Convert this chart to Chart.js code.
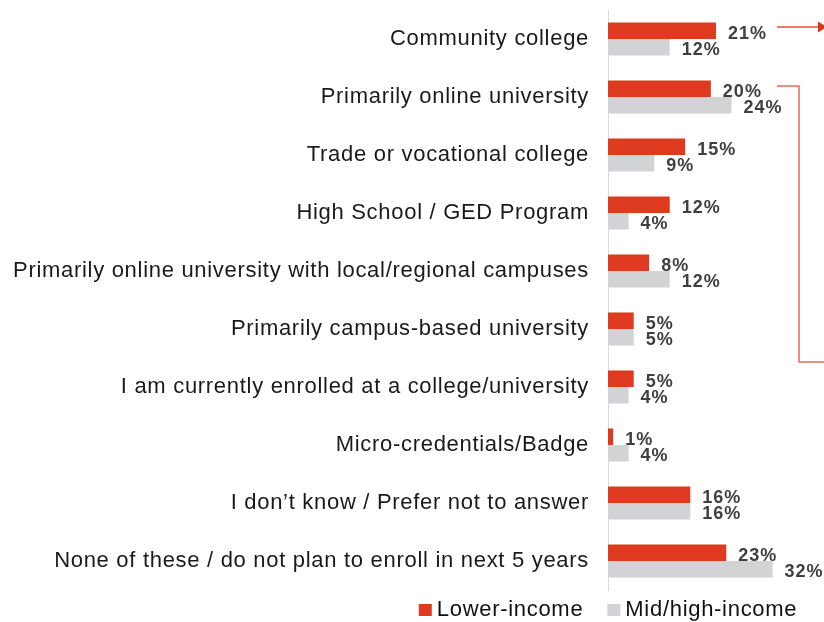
<!DOCTYPE html>
<html>
<head>
<meta charset="utf-8">
<script src="https://cdn.jsdelivr.net/npm/chart.js@4.4.1/dist/chart.umd.min.js"></script>
<style>
  html, body { margin: 0; padding: 0; background: #fff; }
  canvas { display: block; }
</style>
</head>
<body>
<canvas id="chart" width="824" height="622"></canvas>
<script>
const categories = [
  'Community college',
  'Primarily online university',
  'Trade or vocational college',
  'High School / GED Program',
  'Primarily online university with local/regional campuses',
  'Primarily campus-based university',
  'I am currently enrolled at a college/university',
  'Micro-credentials/Badge',
  'I don\u2019t know / Prefer not to answer',
  'None of these / do not plan to enroll in next 5 years',
]
const lowerIncome = [21, 20, 15, 12, 8, 5, 5, 1, 16, 23]
const midHighIncome = [12, 24, 9, 4, 12, 5, 4, 4, 16, 32]

const RED = '#dd3a1f'
const GREY = '#d2d3d5'
const FONT = '"Liberation Sans", Arial, sans-serif'

// percentage labels at the end of each bar
const valueLabels = {
  id: 'valueLabels',
  beforeDraw(chart) {
    chart.ctx.letterSpacing = '0.7px'
  },
  afterDatasetsDraw(chart) {
    const ctx = chart.ctx
    ctx.save()
    ctx.font = 'bold 18px ' + FONT
    ctx.letterSpacing = '1px'
    ctx.fillStyle = '#404040'
    ctx.textBaseline = 'middle'
    ctx.textAlign = 'left'
    chart.data.datasets.forEach((ds, i) => {
      chart.getDatasetMeta(i).data.forEach((bar, j) => {
        ctx.fillText(ds.data[j] + '%', bar.x + 12, bar.y + 3)
      })
    })
    ctx.restore()
  }
}

// arrow and bracket on the right edge
const callouts = {
  id: 'callouts',
  afterDraw(chart) {
    const ctx = chart.ctx
    const y = chart.scales.y
    const w = chart.width
    const arrowY = y.getPixelForValue(0) - 12
    const brTop = y.getPixelForValue(1) - 11
    const brBottom = (y.getPixelForValue(5) + y.getPixelForValue(6)) / 2 + 4
    ctx.save()
    ctx.strokeStyle = '#e4513b'
    ctx.fillStyle = '#d9361e'
    ctx.lineWidth = 1.3
    ctx.beginPath()
    ctx.moveTo(w - 47, arrowY)
    ctx.lineTo(w - 6, arrowY)
    ctx.stroke()
    ctx.beginPath()
    ctx.moveTo(w - 6, arrowY - 5.5)
    ctx.lineTo(w + 3, arrowY)
    ctx.lineTo(w - 6, arrowY + 5.5)
    ctx.closePath()
    ctx.fill()
    ctx.strokeStyle = '#e86a57'
    ctx.lineWidth = 1.5
    ctx.beginPath()
    ctx.moveTo(w - 47, brTop)
    ctx.lineTo(w - 25, brTop)
    ctx.lineTo(w - 25, brBottom)
    ctx.lineTo(w, brBottom)
    ctx.stroke()
    ctx.restore()
  }
}

// legend below the plot, centred on the axis line
const bottomLegend = {
  id: 'bottomLegend',
  afterDraw(chart) {
    const ctx = chart.ctx
    ctx.save()
    ctx.font = '22px ' + FONT
    ctx.letterSpacing = '0.7px'
    ctx.textBaseline = 'middle'
    ctx.textAlign = 'left'
    const items = chart.data.datasets.map(ds => ({
      label: ds.label,
      color: ds.backgroundColor,
      width: 13 + 5 + ctx.measureText(ds.label).width,
    }))
    const gap = 24
    const total = items.reduce((s, it) => s + it.width, 0) + gap * (items.length - 1)
    let x = chart.chartArea.left - total / 2
    const yMid = chart.height - 12
    items.forEach((it) => {
      ctx.fillStyle = it.color
      ctx.fillRect(x, yMid - 6, 13, 12)
      ctx.fillStyle = '#111'
      ctx.fillText(it.label, x + 18, yMid)
      x += it.width + gap
    })
    ctx.restore()
  }
}

const ctx = document.getElementById('chart').getContext('2d')
const chart = new Chart(ctx, {
  type: 'bar',
  data: {
    labels: categories,
    datasets: [
      { label: 'Lower-income', data: lowerIncome, backgroundColor: RED },
      { label: 'Mid/high-income', data: midHighIncome, backgroundColor: GREY },
    ],
  },
  options: {
    indexAxis: 'y',
    responsive: false,
    animation: false,
    barPercentage: 1,
    categoryPercentage: 0.57,
    layout: { padding: { top: 10, bottom: 32, left: 0, right: 0 } },
    plugins: {
      legend: { display: false },
      tooltip: { enabled: false },
    },
    scales: {
      x: {
        display: false,
        min: 0,
        max: 42,
      },
      y: {
        afterFit(scale) {
          scale.width = 608
          scale.paddingTop = 0
          scale.paddingBottom = 0
        },
        grid: { display: false, drawTicks: false },
        border: { display: true, color: '#d9d9d9', width: 1 },
        ticks: {
          padding: 19,
          color: '#1a1a1a',
          font: { family: FONT, size: 22 },
          autoSkip: false,
        },
      },
    },
  },
  plugins: [valueLabels, callouts, bottomLegend],
})
</script>
</body>
</html>
